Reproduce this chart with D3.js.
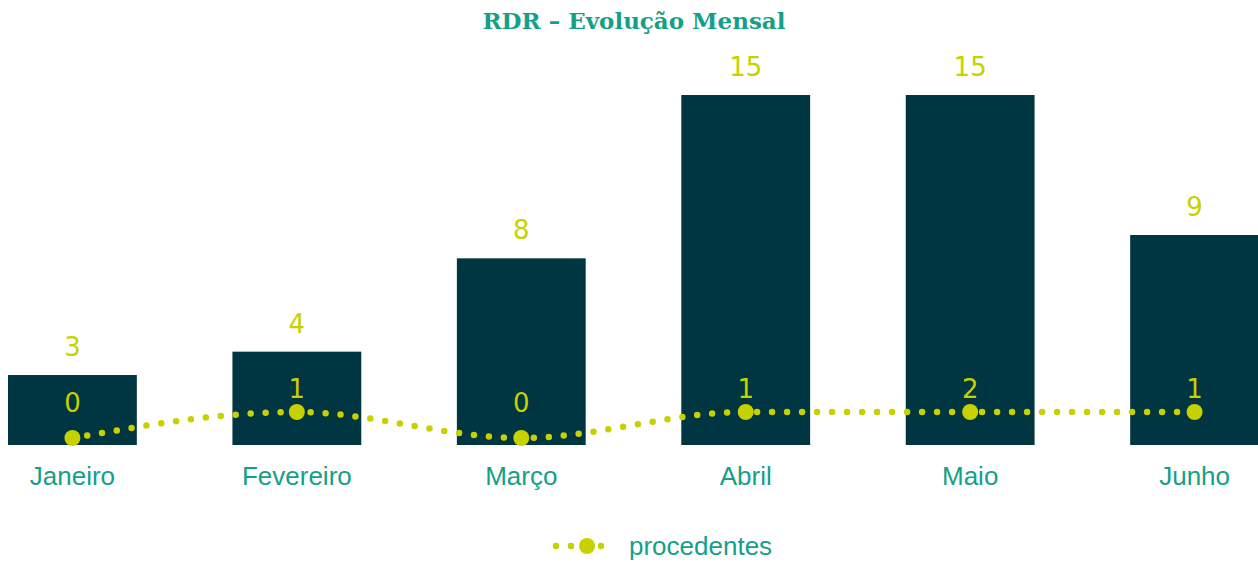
<!DOCTYPE html>
<html>
<head>
<meta charset="utf-8">
<script src="https://cdn.jsdelivr.net/npm/d3@7"></script>
<style>
  body { margin: 0; background: #fff; }
</style>
</head>
<body>
<script>
var months = ["Janeiro", "Fevereiro", "Março", "Abril", "Maio", "Junho"]
var totals = [3, 4, 8, 15, 15, 9]
var procedentes = [0, 1, 0, 1, 2, 1]

var svgWidth = 1258
var svgHeight = 562
var barColor = "#003542"
var lime = "#c8d100"
var teal = "#14a088"

var svg = d3.select("body")
    .append("svg")
    .attr("width", svgWidth)
    .attr("height", svgHeight)
    .style("font-family", "'DejaVu Sans', sans-serif")

var x = d3.scaleBand().domain(months).range([8, 1259]).paddingInner(0.426).paddingOuter(0)
var y = d3.scaleLinear().domain([0, 15]).range([445, 95])
// secondary axis for the line, clamped at 1 like the original chart
var y2 = d3.scaleLinear().domain([0, 1]).range([438, 412]).clamp(true)

svg.append("text")
    .attr("x", 634)
    .attr("y", 29)
    .attr("text-anchor", "middle")
    .attr("fill", teal)
    .style("font-family", "'DejaVu Serif', serif")
    .style("font-weight", "bold")
    .style("font-size", "23px")
    .text("RDR – Evolução Mensal")

svg.selectAll(".bar")
    .data(months)
    .enter().append("rect")
    .attr("class", "bar")
    .attr("x", d => x(d))
    .attr("width", x.bandwidth())
    .attr("y", (d, i) => y(totals[i]))
    .attr("height", (d, i) => y(0) - y(totals[i]))
    .attr("fill", barColor)

svg.selectAll(".barLabel")
    .data(months)
    .enter().append("text")
    .attr("class", "barLabel")
    .attr("x", d => x(d) + x.bandwidth() / 2)
    .attr("y", (d, i) => y(totals[i]) - 19)
    .attr("text-anchor", "middle")
    .attr("fill", lime)
    .style("font-size", "26px")
    .text((d, i) => totals[i])

// x axis labels
var xAxis = d3.axisBottom(x).tickSize(0).tickPadding(0)
var gx = svg.append("g")
    .attr("transform", "translate(0,467)")
    .call(xAxis)
gx.select(".domain").remove()
gx.selectAll("text")
    .attr("fill", teal)
    .attr("dy", "0.71em")
    .style("font-family", "'Liberation Sans', Arial, sans-serif")
    .style("font-size", "26px")

var cx = d => x(d) + x.bandwidth() / 2
var line = d3.line()
    .x(d => cx(d))
    .y((d, i) => y2(procedentes[i]))
    .curve(d3.curveMonotoneX)

svg.append("path")
    .attr("d", line(months))
    .attr("fill", "none")
    .attr("stroke", lime)
    .attr("stroke-width", 6.5)
    .attr("stroke-linecap", "round")
    .attr("stroke-dasharray", "0 15")

svg.selectAll(".pt")
    .data(months)
    .enter().append("circle")
    .attr("class", "pt")
    .attr("cx", cx)
    .attr("cy", (d, i) => y2(procedentes[i]))
    .attr("r", 8)
    .attr("fill", lime)

svg.selectAll(".ptLabel")
    .data(months)
    .enter().append("text")
    .attr("class", "ptLabel")
    .attr("x", cx)
    .attr("y", (d, i) => Math.min(y2(procedentes[i]) - 23, 403))
    .attr("dy", "0.36em")
    .attr("text-anchor", "middle")
    .attr("fill", lime)
    .style("font-size", "26px")
    .text((d, i) => procedentes[i])

// legend
var legend = svg.append("g").attr("transform", "translate(587,546)")
legend.append("line")
    .attr("x1", -31).attr("x2", 29)
    .attr("stroke", lime)
    .attr("stroke-width", 6.5)
    .attr("stroke-linecap", "round")
    .attr("stroke-dasharray", "0 15")
legend.append("circle").attr("r", 8).attr("fill", lime)
legend.append("text")
    .attr("x", 42)
    .attr("dy", "0.35em")
    .attr("fill", teal)
    .style("font-family", "'Liberation Sans', Arial, sans-serif")
    .style("font-size", "26px")
    .text("procedentes")
</script>
</body>
</html>
